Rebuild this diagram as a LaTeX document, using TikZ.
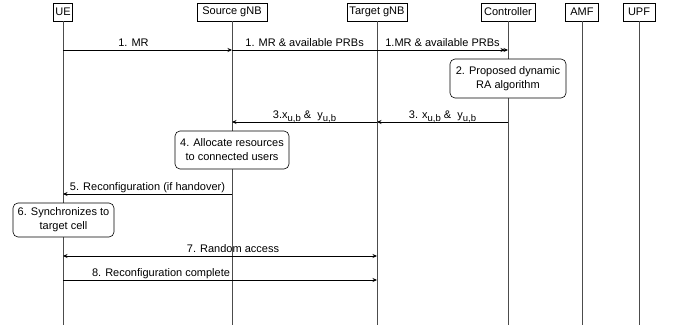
\documentclass[tikz,border=0pt]{standalone}
\usepackage{fontspec}
\setmainfont{Liberation Sans}
\usetikzlibrary{arrows.meta}
\newcommand{\lowidx}[1]{\raisebox{-2.5pt}{\fontsize{9.5}{10}\selectfont #1}}

\tikzset{
  head/.style={draw, line width=0.6pt, minimum height=18pt, inner xsep=2pt, inner ysep=0pt},
  lifeline/.style={draw=black!70, line width=0.6pt},
  msg/.style={line width=0.7pt, -{Stealth[length=4.5pt,width=4pt]}},
  lbl/.style={anchor=south, inner sep=0pt, yshift=3pt, text depth=0pt},
  task/.style={draw, fill=white, rounded corners=5pt, line width=0.6pt,
               align=center, inner sep=0pt, font=\fontsize{11}{14}\selectfont}
}

\begin{document}
\begin{tikzpicture}[x=1pt, y=-1pt, font=\fontsize{11}{13}\selectfont]
  \useasboundingbox (0,0) rectangle (676,329);
  % entities and lifelines
  \node[head, minimum width=19pt] (ue)   at (63,12)  {UE};
  \node[head, minimum width=70pt] (src)  at (232,12) {Source gNB};
  \node[head, minimum width=60pt] (tgt)  at (377,12) {Target gNB};
  \node[head, minimum width=54pt] (ctrl) at (508,12) {Controller};
  \node[head, minimum width=33pt] (amf)  at (582,12) {AMF};
  \node[head, minimum width=32pt] (upf)  at (639,12) {UPF};
  \coordinate (bottom) at (0,325);
  \foreach \n in {ue,src,tgt,ctrl,amf,upf}
    \draw[lifeline] (\n.south) -- (\n.south |- bottom);

  % step 1: measurement reports
  \coordinate (m1) at (0,50);
  \draw[msg] (ue |- m1) -- node[lbl, xshift=-14pt] {1. MR} (src |- m1);
  \draw[msg, shorten >=3pt] (src |- m1) -- node[lbl, pos=0.263] {1. MR \& available PRBs} (ctrl |- m1);
  \draw[msg] (tgt |- m1) -- node[lbl] {1.MR \& available PRBs} (ctrl |- m1);

  % step 2
  \node[task, minimum width=116pt, minimum height=39pt] (algo) at (508,78.5)
    {2. Proposed dynamic\\RA algorithm};

  % step 3: decisions back to the cells
  \coordinate (m3) at (0,122);
  \draw[msg] (ctrl |- m3) -- node[lbl] {3. x\lowidx{u,b} \&~ y\lowidx{u,b}} (tgt |- m3);
  \draw[msg] (tgt |- m3) -- node[lbl] {3.x\lowidx{u,b} \&~ y\lowidx{u,b}} (src |- m3);

  % step 4
  \node[task, minimum width=114pt, minimum height=38pt] (alloc) at (232,150)
    {4. Allocate resources\\to connected users};

  % step 5
  \coordinate (m5) at (0,194);
  \draw[msg] (src |- m5) -- node[lbl] {5. Reconfiguration (if handover)} (ue |- m5);

  % step 6
  \node[task, minimum width=101pt, minimum height=34pt] (sync) at (63.5,220)
    {6. Synchronizes to\\target cell};

  % steps 7 and 8
  \coordinate (m7) at (0,256);
  \coordinate (m8) at (0,280);
  \draw[msg, {Stealth[length=4.5pt,width=4pt]}-{Stealth[length=4.5pt,width=4pt]}]
    (ue |- m7) -- node[lbl, xshift=13pt] {7. Random access} (tgt |- m7);
  \draw[msg] (ue |- m8) -- node[lbl, xshift=-59pt] {8. Reconfiguration complete} (tgt |- m8);
\end{tikzpicture}
\end{document}
